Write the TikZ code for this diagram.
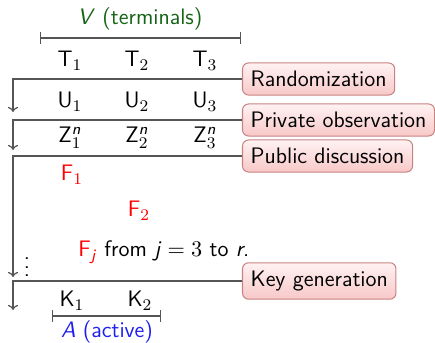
\documentclass[tikz,border=0pt]{standalone}
\usepackage{amsmath}
\usepackage{fontspec}
\usetikzlibrary{arrows.meta}
\definecolor{linegray}{RGB}{85,85,85}
\definecolor{boxborder}{RGB}{200,130,130}
\definecolor{boxtop}{RGB}{255,242,242}
\definecolor{boxbot}{RGB}{248,200,200}
\definecolor{vgreen}{RGB}{20,100,20}
\definecolor{ablue}{RGB}{30,30,240}
\newcommand{\mi}[1]{\text{\textit{#1}}}
\begin{document}
\begin{tikzpicture}[x=0.491pt,y=-0.491pt,
  every node/.style={font=\sffamily\fontsize{11}{13}\selectfont},
  lbl/.style={anchor=base, inner sep=0pt},
  stage/.style={anchor=west, draw=boxborder, rounded corners=3pt, top color=boxtop, bottom color=boxbot, inner sep=4pt, line width=0.5pt},
  conn/.style={draw=linegray, line width=0.6pt},
  flow/.style={conn, -{To[length=2.5pt,width=5pt]}},
  brace/.style={conn, {Bar[width=5.5pt]}-{Bar[width=5.5pt]}}]
\useasboundingbox (0,0) rectangle (435,343);

% terminals bracket
\node[lbl, text=vgreen] (vlab) at (140,25) {\textit{V} (terminals)};
\coordinate (vl) at (40,38);
\coordinate (vr) at (241,38);
\draw[brace] (vl) -- (vr);

\node[lbl] (t1) at (70,67) {T$_1$};
\node[lbl] (t2) at (137,67) {T$_2$};
\node[lbl] (t3) at (205,67) {T$_3$};

% stages
\node[stage] (rand) at (242,79) {Randomization};
\node[stage] (priv) at (242,120) {Private observation};
\node[stage] (pub) at (242,156) {Public discussion};
\node[stage] (key) at (242,281) {Key generation};

\coordinate (e1) at (13,112);
\coordinate (e2) at (13,150);
\coordinate (e3) at (13,277);
\coordinate (e4) at (13,310);
\draw[flow] (rand.west) -| (e1);
\draw[flow] (priv.west) -| (e2);
\draw[flow] (pub.west) -| (e3);
\draw[flow] (key.west) -| (e4);

\node[lbl] (u1) at (70,108) {U$_1$};
\node[lbl] (u2) at (137,108) {U$_2$};
\node[lbl] (u3) at (205,108) {U$_3$};

\node[lbl] (z1) at (70,143) {Z$^{\mi{n}}_1$};
\node[lbl] (z2) at (137,143) {Z$^{\mi{n}}_2$};
\node[lbl] (z3) at (205,143) {Z$^{\mi{n}}_3$};

\node[lbl, text=red] (f1) at (72,181) {F$_1$};
\node[lbl, text=red] (f2) at (139,217) {F$_2$};
\node[inner sep=0pt] (dots) at (27,261) {\vdots};
\node[lbl, anchor=base west] (fj) at (78,257) {{\color{red}F$_{\mi{j}}$} from $\mi{j}=3$ to \textit{r}.};

\node[lbl] (k1) at (72,307) {K$_1$};
\node[lbl] (k2) at (140,307) {K$_2$};
\coordinate (al) at (52,316);
\coordinate (ar) at (161,316);
\draw[brace] (al) -- (ar);
\node[lbl, text=ablue] (alab) at (107,338) {\textit{A} (active)};
\end{tikzpicture}
\end{document}
